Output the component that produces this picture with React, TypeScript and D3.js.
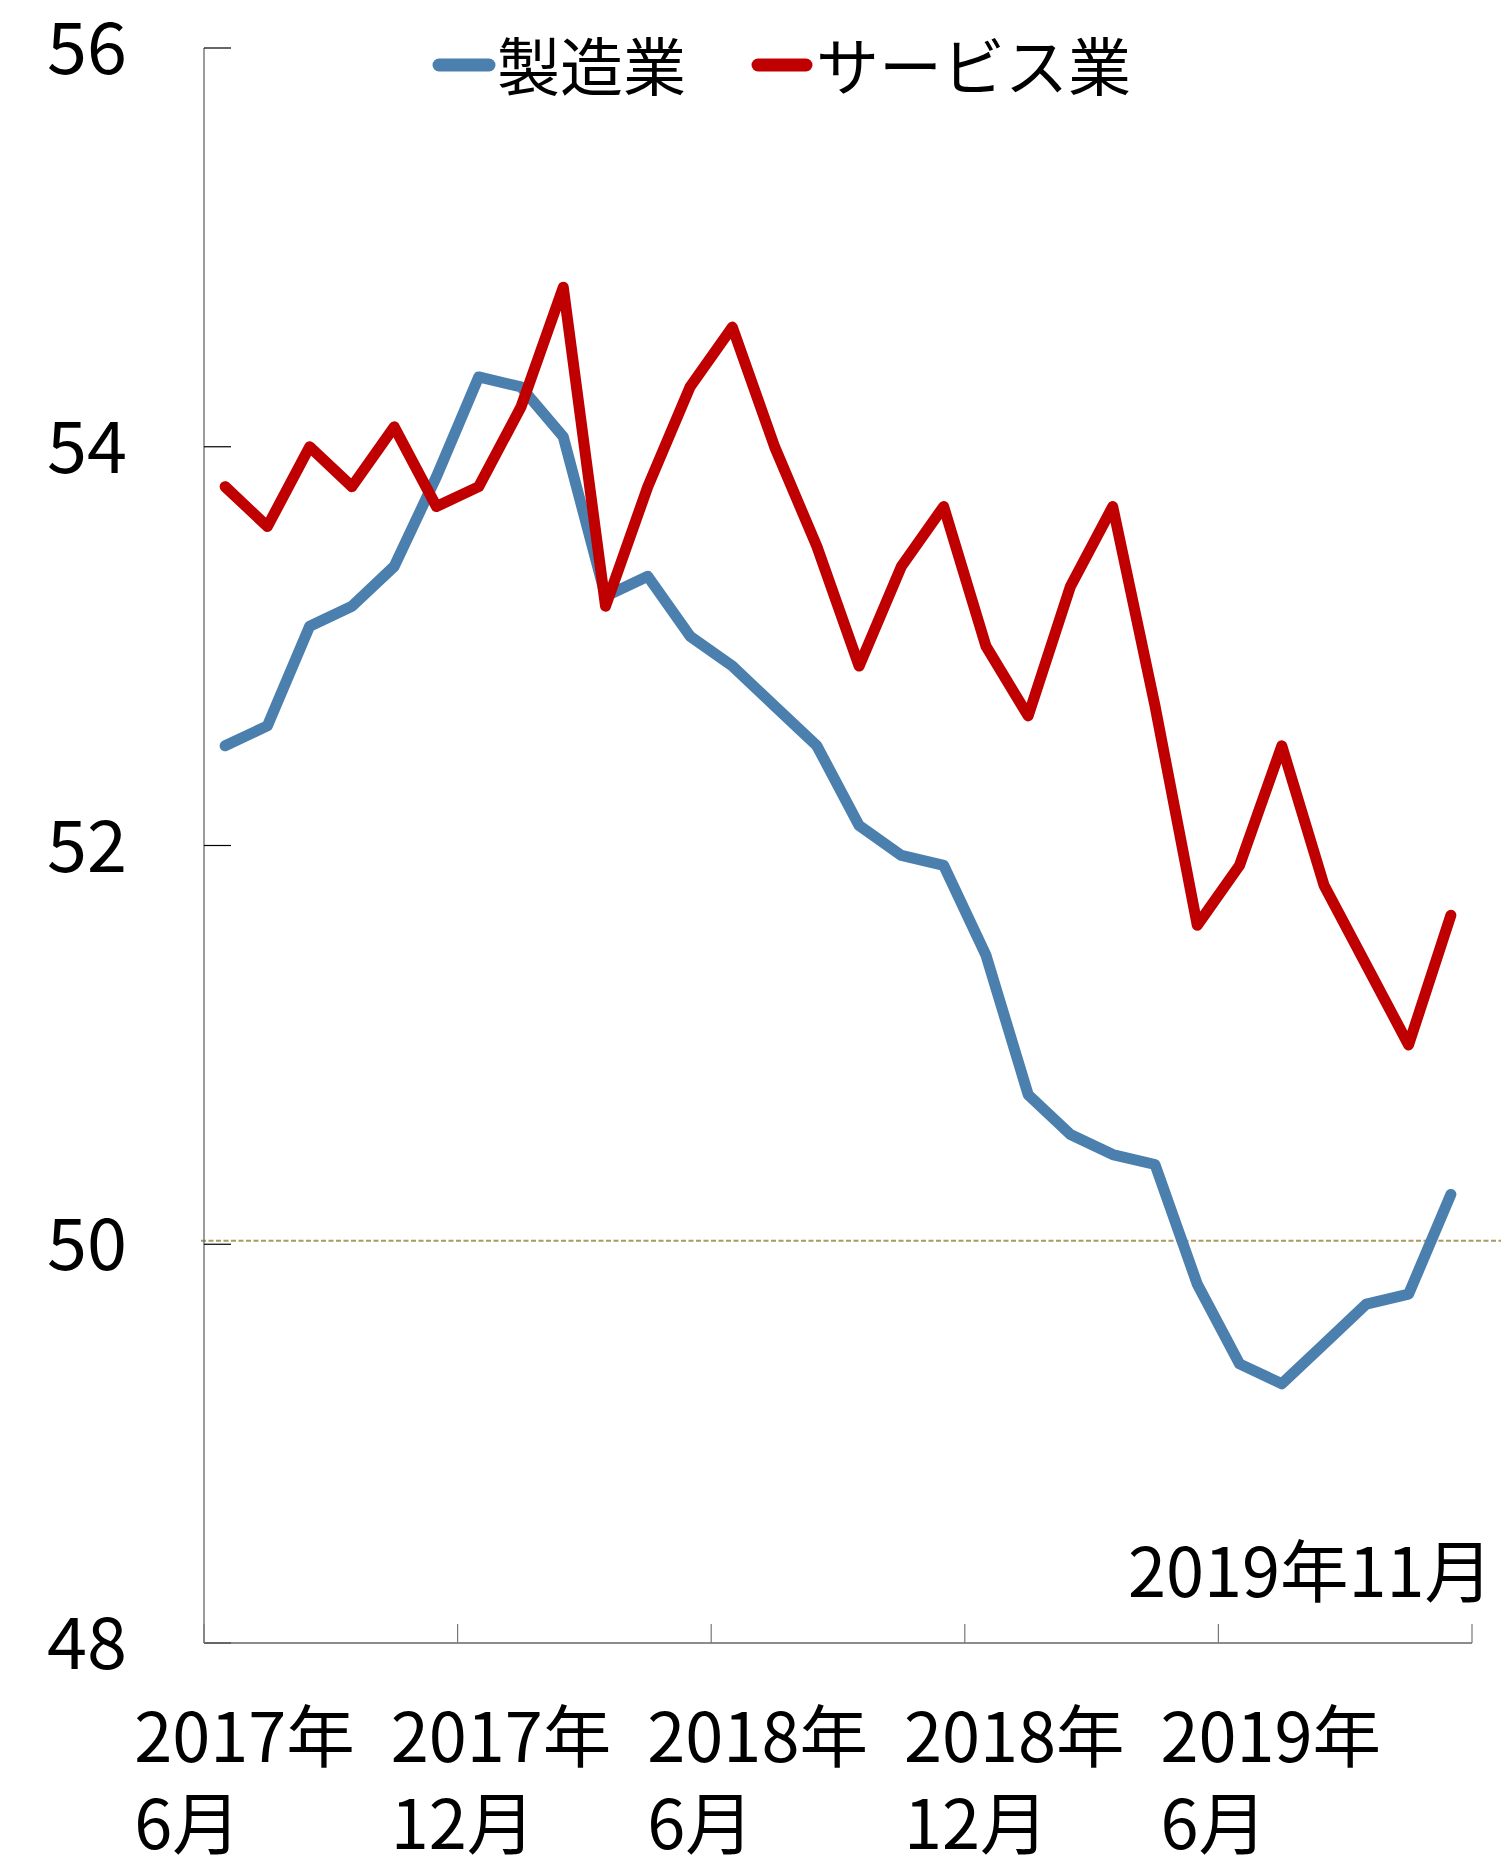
import React from 'react';
import * as d3 from 'd3';

// 2017年6月〜2019年11月 (monthly)
const months = [
    '2017-06', '2017-07', '2017-08', '2017-09', '2017-10', '2017-11',
    '2017-12', '2018-01', '2018-02', '2018-03', '2018-04', '2018-05',
    '2018-06', '2018-07', '2018-08', '2018-09', '2018-10', '2018-11',
    '2018-12', '2019-01', '2019-02', '2019-03', '2019-04', '2019-05',
    '2019-06', '2019-07', '2019-08', '2019-09', '2019-10', '2019-11',
];

const manufacturing = [
    52.5, 52.6, 53.1, 53.2, 53.4, 53.85, 54.35, 54.3, 54.05, 53.25,
    53.35, 53.05, 52.9, 52.7, 52.5, 52.1, 51.95, 51.9, 51.45, 50.75,
    50.55, 50.45, 50.4, 49.8, 49.4, 49.3, 49.5, 49.7, 49.75, 50.25,
];

const services = [
    53.8, 53.6, 54.0, 53.8, 54.1, 53.7, 53.8, 54.2, 54.8, 53.2,
    53.8, 54.3, 54.6, 54.0, 53.5, 52.9, 53.4, 53.7, 53.0, 52.65,
    53.3, 53.7, 52.7, 51.6, 51.9, 52.5, 51.8, 51.4, 51.0, 51.65,
];

const yTicks = [48, 50, 52, 54, 56];

// category labels shown every 6 months
const xLabelIdx = [0, 6, 12, 18, 24];
const xLabelYear = ['2017年', '2017年', '2018年', '2018年', '2019年'];
const xLabelMonth = ['6月', '12月', '6月', '12月', '6月'];

const seriesNames = ['製造業', 'サービス業'];
const seriesColors = ['#4a7fae', '#c00000'];

const W = 1501;
const H = 1860;
const FONT = '"Noto Sans CJK JP", "Noto Sans", sans-serif';

const App = () => {
    const left = 204;
    const right = 1472;
    const top = 48;
    const bottom = 1643;

    const x = d3.scaleBand().domain(months).range([left, right]).paddingInner(0).paddingOuter(0);
    const y = d3.scaleLinear().domain([48, 56]).range([bottom, top]);
    const cx = (m) => x(m) + x.bandwidth() / 2;

    const line = d3.line()
        .x((d, i) => cx(months[i]))
        .y((d) => y(d));

    const series = [manufacturing, services];

    // tick boundaries every 6 categories
    const xTickPos = d3.range(0, months.length + 1, 6).map((i) => left + i * x.bandwidth());

    return (
        <svg width={W} height={H} style={{ position: 'absolute', left: 0, top: 0, background: '#fff' }}
            fontFamily={FONT}>
            {/* 50 reference line */}
            <line x1={201} x2={W} y1={y(50) - 3.5} y2={y(50) - 3.5}
                stroke="#a89a62" strokeWidth={2} strokeDasharray="5,2.5" />

            {/* y axis */}
            <line x1={left} x2={left} y1={top} y2={bottom} stroke="#666" strokeWidth={1.3} />
            {yTicks.map((t) => (
                <g key={t}>
                    <line x1={left} x2={left + 27} y1={y(t)} y2={y(t)} stroke="#000" strokeWidth={1.2} />
                    <text x={127} y={y(t) + 26} textAnchor="end"
                        fontSize={72} fill="#000">{t}</text>
                </g>
            ))}

            {/* x axis */}
            <line x1={left} x2={right} y1={bottom} y2={bottom} stroke="#666" strokeWidth={1.3} />
            {xTickPos.map((p, i) => (
                <line key={i} x1={p} x2={p} y1={bottom} y2={bottom - 19} stroke="#777" strokeWidth={1.2} />
            ))}
            {xLabelIdx.map((idx, k) => {
                const lx = cx(months[idx]) - 91 + k * 3;
                return (
                    <text key={idx} x={lx} fontSize={68.5} fill="#000">
                        <tspan x={lx} y={1762}>{xLabelYear[k]}</tspan>
                        <tspan x={lx} y={1849}>{xLabelMonth[k]}</tspan>
                    </text>
                );
            })}

            {/* series */}
            {series.map((s, i) => (
                <path key={i} d={line(s)} fill="none" stroke={seriesColors[i]}
                    strokeWidth={11} strokeLinejoin="round" strokeLinecap="round" />
            ))}

            {/* latest month annotation */}
            <text x={1493} y={1597} textAnchor="end" fontSize={68.5} fill="#000">2019年11月</text>

            {/* legend */}
            <line x1={439} x2={489} y1={65} y2={65} stroke={seriesColors[0]} strokeWidth={13} strokeLinecap="round" />
            <text x={497} y={62} dominantBaseline="central" fontSize={63} fill="#000">{seriesNames[0]}</text>
            <line x1={758} x2={806} y1={65} y2={65} stroke={seriesColors[1]} strokeWidth={13} strokeLinecap="round" />
            <text x={816} y={62} dominantBaseline="central" fontSize={63} fill="#000">{seriesNames[1]}</text>
        </svg>
    );
};

export default App;
